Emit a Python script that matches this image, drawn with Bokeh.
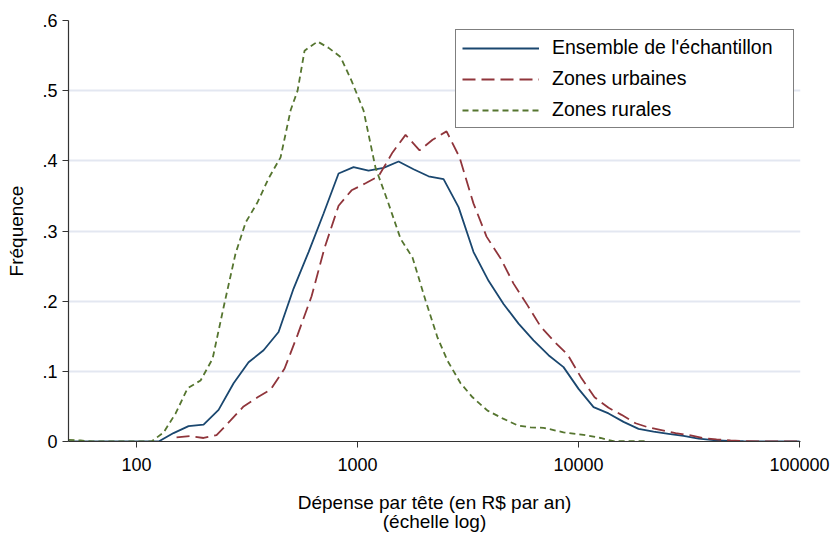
from bokeh.plotting import figure
from bokeh.models import (Range1d, FixedTicker, PrintfTickFormatter, CustomJSTickFormatter,
                          Legend, LegendItem)
from bokeh.embed import file_html
from bokeh.resources import INLINE

# ---- data ----
x_total = [49.2, 57.6, 67.3, 78.7, 92.0, 107.6, 125.8, 147.0, 171.9, 201.0, 235.0, 274.8,
           321.2, 375.6, 439.1, 513.4, 600.2, 701.8, 820.4, 959.2, 1121, 1311, 1533, 1792,
           2095, 2450, 2864, 3348, 3915, 4577, 5351, 6256, 7314, 8550, 10000, 11692, 13669,
           15981, 18684, 21844, 25538, 29857, 34907, 40810, 47712, 55781, 65214, 76243,
           89137, 100000]
y_total = [0.0, 0.0, 0.0, 0.0, 0.0, 0.0, 0.0, 0.012, 0.022, 0.024, 0.045, 0.083,
           0.113, 0.130, 0.156, 0.218, 0.270, 0.325, 0.382, 0.391, 0.386, 0.390, 0.399, 0.388,
           0.378, 0.374, 0.334, 0.270, 0.229, 0.196, 0.168, 0.144, 0.123, 0.106, 0.075, 0.049,
           0.040, 0.028, 0.018, 0.014, 0.011, 0.008, 0.004, 0.002, 0.001, 0.0005, 0.0003,
           0.0002, 0.0001, 0.0]

x_urban = [151.7, 173.7, 201.0, 230.1, 266.3, 304.9, 352.8, 404.0, 467.5, 535.3, 619.3,
           709.1, 820.4, 939.5, 1087, 1245, 1440, 1649, 1908, 2185, 2527, 2894, 3348, 3834,
           4437, 5080, 5878, 6731, 7787, 8917, 10318, 11815, 13669, 15650, 18110, 20740,
           23990, 27480, 31780, 36400, 42110, 48730, 55800, 73940, 98970]
y_urban = [0.006, 0.0076, 0.005, 0.009, 0.030, 0.050, 0.063, 0.074, 0.104, 0.152, 0.207,
           0.276, 0.336, 0.358, 0.368, 0.378, 0.412, 0.437, 0.415, 0.430, 0.442, 0.405, 0.339,
           0.292, 0.261, 0.225, 0.194, 0.164, 0.142, 0.124, 0.090, 0.063, 0.048, 0.038, 0.026,
           0.020, 0.016, 0.012, 0.009, 0.005, 0.003, 0.0014, 0.0007, 0.0, 0.0]

x_rural = [49.2, 55.8, 63.2, 71.6, 81.2, 92.0, 104.3, 116.9, 132.6, 150.2, 170.2, 194.8,
           220.8, 247.5, 280.5, 311.4, 352.8, 395.7, 448.4, 497.8, 535.3, 575.6, 659.2, 739.4,
           837.6, 939.5, 1064, 1206, 1367, 1565, 1774, 2031, 2301, 2554, 2925, 3314, 3874,
           4530, 5297, 6066, 6943, 8550, 10534, 12580, 14400, 20520]
y_rural = [0.0024, 0.0014, 0.0, 0.0, 0.0, 0.0, 0.0, 0.0, 0.013, 0.040, 0.076, 0.087,
           0.118, 0.191, 0.268, 0.312, 0.341, 0.375, 0.405, 0.472, 0.500, 0.557, 0.570, 0.561,
           0.548, 0.514, 0.472, 0.390, 0.343, 0.289, 0.262, 0.201, 0.148, 0.115, 0.083, 0.063,
           0.044, 0.033, 0.023, 0.020, 0.0195, 0.013, 0.0095, 0.005, 0.0004, 0.0004]

x_ticks = [100, 1000, 10000, 100000]
y_ticks = [0, 0.1, 0.2, 0.3, 0.4, 0.5, 0.6]

labels = ["Ensemble de l'échantillon", "Zones urbaines", "Zones rurales"]
colors = ["#1a476f", "#90353b", "#55752f"]

FONT = "Liberation Sans"

p = figure(width=833, height=536, x_axis_type="log",
           x_range=Range1d(49.2, 101000), y_range=Range1d(0, 0.6),
           output_backend="svg", toolbar_location=None,
           min_border_left=68, min_border_right=33, min_border_top=20, min_border_bottom=95)
p.outline_line_color = None
p.background_fill_color = "white"
p.border_fill_color = "white"

r1 = p.line(x_total, y_total, line_color=colors[0], line_width=1.8)
r2 = p.line(x_urban, y_urban, line_color=colors[1], line_width=1.8, line_dash="13 6")
r3 = p.line(x_rural, y_rural, line_color=colors[2], line_width=1.8, line_dash="6 4")

p.xgrid.visible = False
p.ygrid.grid_line_color = "#e3e7f1"
p.ygrid.grid_line_width = 2

p.xaxis.ticker = FixedTicker(ticks=x_ticks, minor_ticks=[])
p.xaxis.formatter = PrintfTickFormatter(format="%d")
p.yaxis.ticker = FixedTicker(ticks=y_ticks, minor_ticks=[])
p.yaxis.formatter = CustomJSTickFormatter(
    code="return tick == 0 ? '0' : tick.toFixed(1).replace(/^0/, '');")

for ax in (p.xaxis[0], p.yaxis[0]):
    ax.axis_line_color = "#333333"
    ax.axis_line_width = 1.2
    ax.major_tick_line_color = "#333333"
    ax.major_tick_out = 6
    ax.major_tick_in = 0
    ax.minor_tick_out = 0
    ax.minor_tick_in = 0
    ax.major_label_text_font = FONT
    ax.major_label_text_font_size = "18px"
    ax.major_label_text_color = "black"
    ax.axis_label_text_font = FONT
    ax.axis_label_text_font_size = "19px"
    ax.axis_label_text_font_style = "normal"
    ax.axis_label_text_color = "black"

p.yaxis.major_label_orientation = "horizontal"
p.yaxis.major_label_standoff = 5
p.yaxis.axis_label = "Fréquence"
p.yaxis.axis_label_standoff = 12
p.xaxis.major_label_standoff = 10
p.xaxis.axis_label = "Dépense par tête (en R$ par an)\n(échelle log)"
p.xaxis.axis_label_text_line_height = 0.95
p.xaxis.axis_label_standoff = 18

legend = Legend(items=[LegendItem(label=labels[0], renderers=[r1]),
                       LegendItem(label=labels[1], renderers=[r2]),
                       LegendItem(label=labels[2], renderers=[r3])],
                location=(387, 313), orientation="vertical",
                label_text_font=FONT, label_text_font_size="19.5px", label_text_color="black",
                glyph_width=77, glyph_height=22, label_height=22, label_width=235,
                label_standoff=13, spacing=8, padding=6, margin=0,
                border_line_color="black", border_line_width=1,
                background_fill_color="white", background_fill_alpha=1)
p.add_layout(legend)

open("out.html", "w").write(file_html(p, INLINE))
